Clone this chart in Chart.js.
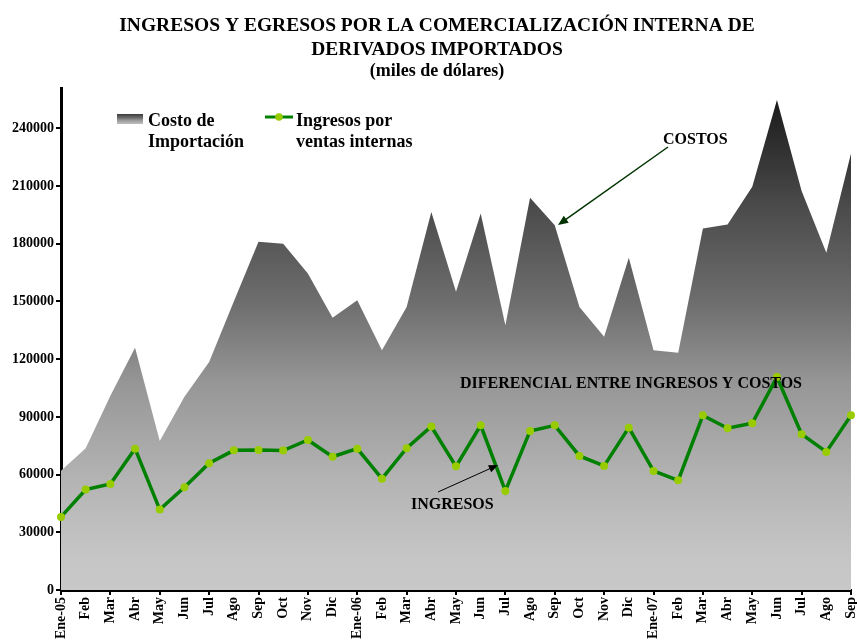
<!DOCTYPE html>
<html>
<head>
<meta charset="utf-8">
<script src="https://cdn.jsdelivr.net/npm/chart.js@4/dist/chart.umd.min.js"></script>
<style>
  html, body { margin: 0; padding: 0; background: #fff; }
  #wrap { width: 857px; height: 642px; }
</style>
</head>
<body>
<div id="wrap"><canvas id="chart" width="857" height="642"></canvas></div>
<script>
// --- data (miles de dólares) ---
const months = [
  "Ene-05", "Feb", "Mar", "Abr", "May", "Jun", "Jul", "Ago", "Sep", "Oct", "Nov", "Dic",
  "Ene-06", "Feb", "Mar", "Abr", "May", "Jun", "Jul", "Ago", "Sep", "Oct", "Nov", "Dic",
  "Ene-07", "Feb", "Mar", "Abr", "May", "Jun", "Jul", "Ago", "Sep"
];
const costoImportacion = [
  62000, 73700, 101000, 126000, 77500, 100500, 118500, 150000, 181000, 180000, 164500, 141600,
  150600, 124600, 147100, 196500, 155100, 195700, 137600, 204000, 189600, 147100, 131700, 172800,
  124600, 123400, 188000, 190000, 209700, 254800, 207500, 175400, 227000
];
const ingresosVentas = [
  38000, 52200, 55100, 73500, 41800, 53400, 65900, 72600, 72800, 72500, 78000, 69300,
  73500, 57900, 73700, 85000, 64300, 85600, 51500, 82700, 85600, 69700, 64500, 84400,
  61900, 57000, 90800, 84100, 86700, 110700, 81000, 71800, 90800
];
const yTicks = [0, 30000, 60000, 90000, 120000, 150000, 180000, 210000, 240000];

const serif = "'Liberation Serif', 'Times New Roman', serif";

function grayGradient(ctx, top, bottom) {
  const g = ctx.createLinearGradient(0, top, 0, bottom);
  g.addColorStop(0.00, "#191919");
  g.addColorStop(0.22, "#4a4a4a");
  g.addColorStop(0.42, "#6e6e6e");
  g.addColorStop(0.58, "#969696");
  g.addColorStop(0.78, "#b4b4b4");
  g.addColorStop(0.94, "#c6c6c6");
  g.addColorStop(1.00, "#c8c8c8");
  return g;
}

function arrow(ctx, x1, y1, x2, y2, color, width, head) {
  const ang = Math.atan2(y2 - y1, x2 - x1);
  ctx.save();
  ctx.strokeStyle = color;
  ctx.fillStyle = color;
  ctx.lineWidth = width;
  ctx.beginPath();
  ctx.moveTo(x1, y1);
  ctx.lineTo(x2 - Math.cos(ang) * head * 0.8, y2 - Math.sin(ang) * head * 0.8);
  ctx.stroke();
  ctx.beginPath();
  ctx.moveTo(x2, y2);
  ctx.lineTo(x2 - head * Math.cos(ang - 0.4), y2 - head * Math.sin(ang - 0.4));
  ctx.lineTo(x2 - head * Math.cos(ang + 0.4), y2 - head * Math.sin(ang + 0.4));
  ctx.closePath();
  ctx.fill();
  ctx.restore();
}

// titles, legend and annotations drawn on top
const decorations = {
  id: "decorations",
  afterDraw(chart) {
    const ctx = chart.ctx;
    ctx.save();
    ctx.fillStyle = "#000";
    ctx.textAlign = "center";
    ctx.textBaseline = "alphabetic";
    ctx.font = "bold 19.5px " + serif;
    ctx.fillText("INGRESOS Y EGRESOS POR LA COMERCIALIZACIÓN INTERNA DE", 437, 31);
    ctx.fillText("DERIVADOS IMPORTADOS", 437, 55);
    ctx.font = "bold 18px " + serif;
    ctx.fillText("(miles de dólares)", 437, 76);

    // legend
    ctx.fillStyle = grayGradient(ctx, 112, 126);
    ctx.fillRect(117, 114, 26, 10);
    ctx.fillStyle = "#000";
    ctx.textAlign = "left";
    ctx.font = "bold 18px " + serif;
    ctx.fillText("Costo de", 148, 126);
    ctx.fillText("Importación", 148, 147);
    ctx.strokeStyle = "#008000";
    ctx.lineWidth = 3;
    ctx.beginPath();
    ctx.moveTo(265, 117);
    ctx.lineTo(293, 117);
    ctx.stroke();
    ctx.fillStyle = "#99cc00";
    ctx.beginPath();
    ctx.arc(279, 117, 3.8, 0, Math.PI * 2);
    ctx.fill();
    ctx.fillStyle = "#000";
    ctx.fillText("Ingresos por", 296, 126);
    ctx.fillText("ventas internas", 296, 147);

    // annotations
    ctx.font = "bold 16px " + serif;
    ctx.fillText("COSTOS", 663, 144);
    ctx.fillText("DIFERENCIAL ENTRE INGRESOS Y COSTOS", 460, 388);
    ctx.fillText("INGRESOS", 411, 509);
    arrow(ctx, 668, 147, 558, 225, "#003300", 1.5, 11);
    arrow(ctx, 438, 492, 498, 465, "#000", 1, 10);
    ctx.restore();
  }
};

const ctx = document.getElementById("chart").getContext("2d");
new Chart(ctx, {
  type: "line",
  data: {
    labels: months,
    datasets: [
      {
        label: "Ingresos por ventas internas",
        data: ingresosVentas,
        borderColor: "#008000",
        borderWidth: 3.5,
        pointRadius: 4,
        pointBorderWidth: 0,
        pointBackgroundColor: "#99cc00",
        tension: 0,
        fill: false,
        order: 0
      },
      {
        label: "Costo de Importación",
        data: costoImportacion,
        borderWidth: 0,
        pointRadius: 0,
        tension: 0,
        fill: "origin",
        backgroundColor: (c) => {
          const a = c.chart.chartArea;
          if (!a) return "#888";
          return grayGradient(c.chart.ctx, a.top + 8, a.bottom);
        },
        order: 1
      }
    ]
  },
  options: {
    responsive: false,
    animation: false,
    events: [],
    layout: { padding: { left: 0, right: 6, top: 88, bottom: 0 } },
    plugins: {
      legend: { display: false },
      title: { display: false },
      tooltip: { enabled: false }
    },
    scales: {
      x: {
        offset: false,
        afterFit: (s) => { s.height = 52; s.paddingLeft = 0; s.paddingRight = 0; },
        border: { color: "#000", width: 3 },
        grid: {
          drawOnChartArea: false,
          drawTicks: true,
          tickLength: 5,
          lineWidth: 2,
          color: (c) => (c.index % 2 === 0 ? "#000" : "rgba(0,0,0,0)")
        },
        ticks: {
          autoSkip: false,
          maxRotation: 90,
          minRotation: 90,
          padding: 2,
          color: "#000",
          font: { family: serif, size: 14, weight: "bold" }
        }
      },
      y: {
        min: 0,
        max: 261000,
        afterFit: (s) => { s.width = 61; s.paddingTop = 0; s.paddingBottom = 0; },
        afterBuildTicks: (s) => { s.ticks = yTicks.map((v) => ({ value: v })); },
        border: { color: "#000", width: 3 },
        grid: {
          drawOnChartArea: false,
          drawTicks: true,
          tickLength: 5,
          lineWidth: 2,
          color: "#000"
        },
        ticks: {
          padding: 2,
          color: "#000",
          callback: (v) => String(v),
          font: { family: serif, size: 14, weight: "bold" }
        }
      }
    }
  },
  plugins: [decorations]
});
</script>
</body>
</html>
